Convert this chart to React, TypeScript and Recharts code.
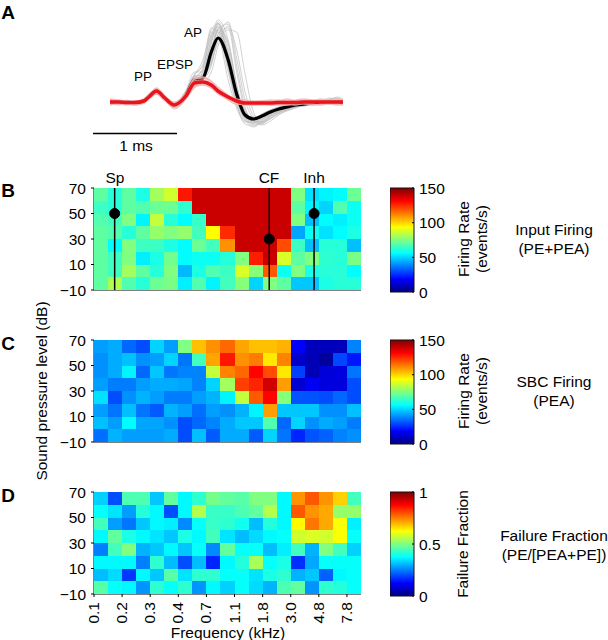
import React from "react";
import {
  ScatterChart, Scatter, XAxis, YAxis, ReferenceDot,
  LineChart, Line, BarChart, Bar,
} from "recharts";

const FONT = "'Liberation Sans', Arial, sans-serif";

const freqLabels = ["0.1", "0.2", "0.3", "0.4", "0.7", "1.1", "1.8", "3.0", "4.8", "7.8"];
const dbTicks = [-10, 10, 30, 50, 70];

const inputFiring = [
  [70,62,70,60,80,87,128,139,139,139,139,139,139,139,75,52,55,56,72],
  [65,62,70,68,72,72,63,139,139,139,139,139,139,139,70,55,50,68,58],
  [68,66,75,55,85,62,56,64,139,139,139,139,139,139,75,47,56,54,58],
  [70,68,62,70,78,75,78,66,94,125,139,139,139,139,43,58,52,56,60],
  [70,56,75,65,65,60,56,72,66,110,139,139,139,120,65,47,62,62,47],
  [70,65,75,54,60,73,56,58,58,62,75,127,139,88,70,75,63,62,74],
  [70,66,80,70,62,75,46,60,68,65,88,76,118,58,75,60,62,62,56],
  [70,82,68,62,72,74,54,68,55,66,76,50,75,70,48,48,60,62,62],
];
const sbcFiring = [
  [42,44,34,30,50,42,75,103,110,116,107,103,103,105,18,9,9,9,38],
  [40,44,47,40,42,50,36,66,107,128,110,113,97,112,11,8,4,29,22],
  [40,44,55,34,48,36,38,38,85,112,116,131,120,97,28,8,13,14,36],
  [42,37,37,42,44,44,43,38,50,80,122,126,138,108,12,17,14,14,30],
  [52,30,40,45,42,37,37,42,45,55,85,118,131,76,31,31,30,34,30],
  [42,36,47,36,32,45,42,35,42,40,45,55,108,48,48,48,40,40,47],
  [47,42,56,43,43,40,30,34,38,44,48,48,68,34,50,40,44,42,37],
  [35,45,42,42,42,44,30,47,32,44,44,32,50,36,24,31,33,38,40],
];
const failureFraction = [
  [.33,.2,.45,.45,.32,.47,.37,.42,.49,.47,.46,.5,.5,.37,.73,.79,.73,.67,.44],
  [.38,.35,.28,.41,.37,.2,.37,.55,.43,.43,.45,.47,.55,.37,.79,.73,.71,.52,.52],
  [.44,.28,.24,.32,.37,.36,.26,.38,.43,.42,.39,.31,.41,.37,.63,.76,.71,.62,.36],
  [.37,.47,.40,.37,.35,.32,.40,.37,.44,.35,.31,.34,.37,.38,.58,.59,.58,.62,.38],
  [.25,.44,.50,.30,.32,.37,.32,.38,.26,.47,.38,.38,.31,.36,.44,.30,.50,.44,.33],
  [.37,.37,.37,.25,.42,.31,.20,.31,.16,.37,.41,.54,.38,.40,.17,.29,.38,.38,.38],
  [.31,.34,.18,.37,.32,.46,.35,.42,.42,.38,.38,.35,.40,.42,.30,.32,.22,.37,.38],
  [.46,.38,.37,.27,.42,.38,.42,.27,.37,.33,.38,.34,.30,.45,.47,.27,.42,.41,.38],
];

const spCol = 1.47, cfCol = 12.47, inhCol = 15.66;
const markers = [
  { col: spCol, db: 50 },
  { col: cfCol, db: 30 },
  { col: inhCol, db: 50 },
];

const timeMs = [0,.1,.2,.3,.4,.46,.55,.65,.76,.9,1,1.1,1.2,1.28,1.4,1.5,1.6,1.7,1.8,1.9,2,2.1,2.2,2.3,2.4,2.5,2.6,2.7,2.76];
const meanAll = [0,0,-.5,-.5,1,5,11,4,-3,7,22,24,50,64,42,8,-13,-17,-14,-10,-7,-5,-3,-2,-1,-.5,0,0,0];
const meanFail = [0,0,-.5,-.5,1,5,11,4,-3,6,19,20,17,11,5,1,-1,-1,-1,-1,-.5,-.5,-.5,0,0,0,0,0,0];
const greyTraces = [
  [1,-1,0,-3,2,8,11,2,-6,5,26,42,72,78,40,2,-18,-22,-18,-12,-8,-6,-4,-3,-1,0,1,-1,0],
  [-2,0,-2,0,-1,3,8,5,-1,9,24,24,36,68,74,30,-8,-20,-20,-15,-10,-8,-5,-3,-3,-2,-1,0,1],
  [2,1,1,0,3,8,10,3,-4,8,20,22,58,80,48,6,-16,-18,-14,-9,-6,-4,-3,-2,-2,0,2,5,2],
  [0,-2,-1,-2,0,4,10,4,-5,6,18,20,30,56,76,52,10,-14,-20,-16,-11,-7,-5,-4,-2,-1,0,0,-1],
  [-1,1,0,-1,2,6,10,4,-2,10,28,36,66,72,34,0,-15,-17,-12,-8,-5,-3,-2,-1,0,1,2,1,0],
  [1,0,-2,-2,1,3,8,5,-3,4,16,24,44,74,60,14,-12,-19,-17,-13,-9,-6,-3,-1,-1,-2,-1,0,2],
  [-3,-1,-1,-3,-1,5,11,2,-7,3,20,30,62,76,36,-2,-22,-24,-18,-11,-7,-4,-4,-3,-1,0,-1,-2,0],
  [0,2,1,0,3,8,12,5,-2,11,26,26,40,60,72,70,28,-10,-21,-17,-12,-9,-6,-3,-2,-1,0,1,1],
  [2,-1,-2,-1,0,4,8,3,-4,7,24,32,70,66,22,-6,-20,-18,-12,-8,-5,-3,-1,0,1,0,-1,0,0],
  [-1,0,1,-2,1,6,12,6,-1,8,22,22,48,78,54,10,-14,-21,-16,-11,-8,-6,-4,-2,0,1,0,-1,-2],
  [1,1,-1,-1,2,5,9,2,-5,6,19,25,54,70,50,12,-11,-15,-15,-11,-8,-5,-2,-1,-2,-1,3,4,1],
  [0,-1,0,-2,0,5,10,4,-3,9,25,28,38,64,80,44,2,-17,-23,-19,-13,-8,-5,-3,-1,0,1,0,0],
  [-2,-3,-1,1,2,5,9,3,-5,4,14,26,60,79,44,4,-15,-23,-21,-14,-10,-7,-2,-4,-1,1,-1,1,0],
  [3,0,1,-1,1,8,13,6,-2,12,30,30,52,72,58,16,-9,-16,-13,-9,-6,-3,0,1,2,1,4,3,3],
  [-1,-2,0,-1,1,6,11,3,-4,7,22,27,64,82,62,18,-14,-20,-19,-13,-9,-5,-3,-2,-2,0,0,-1,1],
  [1,0,2,0,2,7,10,4,-3,9,23,34,68,75,46,8,-17,-25,-20,-14,-9,-6,-4,-1,0,1,1,2,0],
  [0,1,-1,-2,0,4,9,5,-2,8,21,23,42,73,78,36,-5,-19,-22,-16,-11,-7,-3,-2,-1,-2,0,1,-1],
  [-2,1,0,1,3,7,12,3,-4,10,27,38,74,70,30,-3,-19,-21,-15,-10,-6,-4,-2,-1,1,0,-2,-1,1],
];
const pinkTraces = [
  [2,1,1,0,3,7,14,6,0,9,23,24,20,13,6,3,1,0,1,1,2,1,2,3,2,2,1,2,2],
  [-2,-2,-2,-3,-1,3,8,2,-5,3,15,17,14,8,3,-1,-3,-3,-3,-3,-2,-3,-2,-2,-3,-2,-2,-3,-2],
  [1,-1,1,-2,2,6,12,5,-1,8,21,22,18,12,4,2,-2,0,-2,0,1,0,-1,1,-1,1,0,1,-1],
  [-1,1,-1,1,0,4,9,3,-4,4,17,19,16,10,6,0,0,-2,0,-2,-2,1,1,-1,1,-1,2,-1,1],
  [3,2,0,1,2,6,13,6,-2,7,23,25,21,15,7,2,2,1,1,2,1,3,1,2,1,3,2,3,1],
  [-3,-1,-3,-1,-1,3,8,1,-5,5,15,18,15,9,2,-2,-2,-3,-2,-3,-3,-2,-3,-1,-2,-3,-1,-2,-3],
];

const waveRows = timeMs.map((t, i) => {
  const row: Record<string, number> = { t, meanAll: meanAll[i], meanFail: meanFail[i] };
  greyTraces.forEach((g, k) => { row[`g${k}`] = g[i]; });
  pinkTraces.forEach((p, k) => { row[`p${k}`] = p[i]; });
  return row;
});

const jetStops: [number, number[]][] = [
  [0, [0, 0, 127]], [0.125, [0, 0, 255]], [0.375, [0, 255, 255]],
  [0.625, [255, 255, 0]], [0.875, [255, 0, 0]], [1, [127, 0, 0]],
];
function jet(f: number) {
  const v = Math.max(0, Math.min(1, f));
  for (let i = 1; i < jetStops.length; i++) {
    if (v <= jetStops[i][0]) {
      const [a, ca] = jetStops[i - 1];
      const [b, cb] = jetStops[i];
      const k = (v - a) / (b - a);
      const c = ca.map((x, j) => Math.round(x + (cb[j] - x) * k));
      return `rgb(${c[0]},${c[1]},${c[2]})`;
    }
  }
  return "rgb(127,0,0)";
}

const PLOT_W = 267;
const PLOT_H = 102;
const LEFT = 44;
const TOP = 18;
const FS = 15.5;

function cellsOf(grid: number[][]) {
  const out: { x: number; y: number; v: number }[] = [];
  grid.forEach((row, r) => row.forEach((v, c) => out.push({ x: c + 0.5, y: 65 - 10 * r, v })));
  return out;
}

function RotTick(props: any) {
  const { x, y, payload } = props;
  const label = freqLabels[payload.value / 2];
  return (
    <text x={x} y={y} transform={`rotate(-90 ${x} ${y})`} dx={-2} dy={5} textAnchor="end"
      fontFamily={FONT} fontSize={FS} fill="#000">{label}</text>
  );
}

const noDot = () => null;
const dbFormat = (v: number) => String(v).replace("-", "\u2212");

function Heat({ grid, vmax, top, xLabels, overlay }: { grid: number[][]; vmax: number; top: number; xLabels?: boolean; overlay?: boolean }) {
  const cw = PLOT_W / 19;
  const ch = PLOT_H / 8;
  const shape = (p: any) => (
    <rect x={p.cx - cw / 2} y={p.cy - ch / 2} width={cw} height={ch}
      fill={jet(p.payload.v / vmax)} shapeRendering="crispEdges" />
  );
  const xH = xLabels ? 30 : 8;
  return (
    <div style={{ position: "absolute", left: 50, top: top - TOP }}>
      <ScatterChart width={LEFT + PLOT_W + 6} height={TOP + PLOT_H + xH}
        margin={{ top: TOP, right: 6, bottom: 0, left: 0 }}>
        <XAxis type="number" dataKey="x" domain={[0, 19]} ticks={[0,2,4,6,8,10,12,14,16,18]}
          height={xH} tickSize={3} tickMargin={3} stroke="#000" interval={0}
          tick={xLabels ? RotTick : false} allowDataOverflow />
        <YAxis type="number" dataKey="y" domain={[-10, 70]} ticks={dbTicks} width={LEFT}
          tickSize={3} tickMargin={5} stroke="#000" interval={0} tickFormatter={dbFormat}
          tick={{ fontFamily: FONT, fontSize: FS, fill: "#000" }} />
        <Scatter data={cellsOf(grid)} shape={shape} isAnimationActive={false} />
        {overlay && markers.map((m) => (
          <Scatter key={`l${m.col}`} data={[{ x: m.col, y: -10 }, { x: m.col, y: 70 }]}
            line={{ stroke: "#000", strokeWidth: 1.5 }} shape={noDot} isAnimationActive={false} />
        ))}
        {overlay && markers.map((m) => (
          <ReferenceDot key={`d${m.col}`} x={m.col} y={m.db} r={5} fill="#000" stroke="#000" />
        ))}
      </ScatterChart>
    </div>
  );
}

function ColorBar({ top, vmax, ticks, id }: { top: number; vmax: number; ticks: number[]; id: string }) {
  return (
    <div style={{ position: "absolute", left: 390, top: top - 10 }}>
      <BarChart width={70} height={124} data={[{ name: "scale", v: vmax }]}
        margin={{ top: 10, right: 0, bottom: 10, left: 0 }} barCategoryGap={0}>
        <defs>
          <linearGradient id={id} x1="0" y1="1" x2="0" y2="0">
            {jetStops.map(([o, c]) => (
              <stop key={o} offset={o} stopColor={`rgb(${c[0]},${c[1]},${c[2]})`} />
            ))}
          </linearGradient>
        </defs>
        <XAxis dataKey="name" hide />
        <YAxis orientation="right" domain={[0, vmax]} ticks={ticks} width={46} interval={0}
          axisLine={false} tickSize={-2} tickMargin={7} stroke="#000"
          tick={{ fontFamily: FONT, fontSize: FS, fill: "#000" }} />
        <Bar dataKey="v" fill={`url(#${id})`} stroke="#111" strokeWidth={1} isAnimationActive={false} />
      </BarChart>
    </div>
  );
}

function Waves() {
  return (
    <div style={{ position: "absolute", left: 110, top: 15 }}>
      <LineChart width={233} height={115} data={waveRows} margin={{ top: 0, right: 0, bottom: 0, left: 0 }}>
        <XAxis dataKey="t" type="number" domain={[0, 2.76]} hide />
        <YAxis domain={[-28, 87]} hide />
        {greyTraces.map((_, k) => (
          <Line key={k} dataKey={`g${k}`} type="monotone" dot={false} stroke="#bdbdbd" strokeWidth={0.7} isAnimationActive={false} />
        ))}
        <Line dataKey="meanAll" type="monotone" dot={false} stroke="#000" strokeWidth={3.2} isAnimationActive={false} />
        {pinkTraces.map((_, k) => (
          <Line key={k} dataKey={`p${k}`} type="monotone" dot={false} stroke="#f6b2b2" strokeWidth={1.5} strokeOpacity={0.8} isAnimationActive={false} />
        ))}
        <Line dataKey="meanFail" type="monotone" dot={false} stroke="#e8161c" strokeWidth={3.5} isAnimationActive={false} />
      </LineChart>
    </div>
  );
}

const T = (p: any) => (
  <text fontFamily={FONT} fill="#000" fontSize={FS} textAnchor="middle" dominantBaseline="central" {...p} />
);
const R = ({ x, y, children }: any) => (
  <T x={x} y={y} transform={`rotate(-90 ${x} ${y})`}>{children}</T>
);

export default function App() {
  return (
    <div style={{ position: "absolute", left: 0, top: 0, width: 608, height: 640, background: "#fff", overflow: "hidden" }}>
      <Waves />
      <Heat grid={inputFiring} vmax={150} top={188} overlay />
      <Heat grid={sbcFiring} vmax={150} top={340} />
      <Heat grid={failureFraction} vmax={1} top={492} xLabels />
      <ColorBar top={188} vmax={150} ticks={[0, 50, 100, 150]} id="jetB" />
      <ColorBar top={340} vmax={150} ticks={[0, 50, 100, 150]} id="jetC" />
      <ColorBar top={492} vmax={1} ticks={[0, 0.5, 1]} id="jetD" />
      <svg width={608} height={640} style={{ position: "absolute", left: 0, top: 0, pointerEvents: "none" }}>
        <T x={8} y={12} fontSize={19} fontWeight="bold">A</T>
        <T x={8} y={190} fontSize={19} fontWeight="bold">B</T>
        <T x={8} y={343} fontSize={19} fontWeight="bold">C</T>
        <T x={8} y={495} fontSize={19} fontWeight="bold">D</T>

        <T x={143} y={76} fontSize={13.5}>PP</T>
        <T x={175} y={64} fontSize={13.5}>EPSP</T>
        <T x={193} y={32} fontSize={13.5}>AP</T>
        <line x1={93} x2={177} y1={133.5} y2={133.5} stroke="#000" strokeWidth={1.5} />
        <T x={136} y={145}>1 ms</T>

        <T x={115} y={177}>Sp</T>
        <T x={269} y={177}>CF</T>
        <T x={314} y={177}>Inh</T>

        <R x={41} y={391}>Sound pressure level (dB)</R>
        <T x={228} y={632}>Frequency (kHz)</T>

        <R x={463} y={239}>Firing Rate</R>
        <R x={481} y={239}>(events/s)</R>
        <R x={463} y={391}>Firing Rate</R>
        <R x={481} y={391}>(events/s)</R>
        <R x={462} y={544}>Failure Fraction</R>

        <T x={554} y={229}>Input Firing</T>
        <T x={554} y={248}>(PE+PEA)</T>
        <T x={554} y={381}>SBC Firing</T>
        <T x={554} y={400}>(PEA)</T>
        <T x={554} y={535}>Failure Fraction</T>
        <T x={554} y={554}>(PE/[PEA+PE])</T>
      </svg>
    </div>
  );
}
